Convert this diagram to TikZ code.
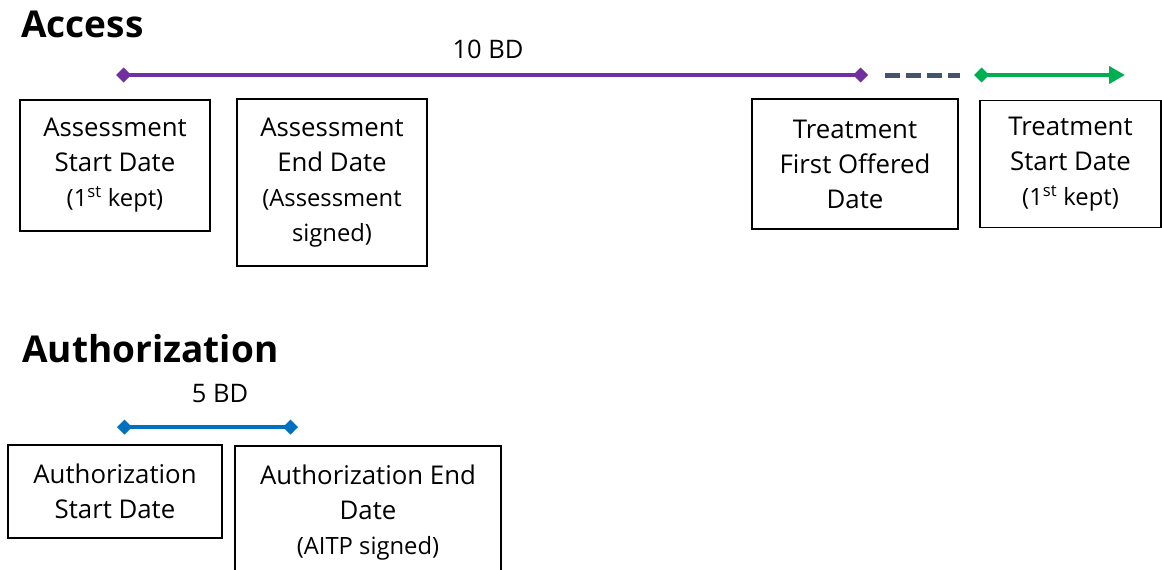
\documentclass[tikz,border=0pt]{standalone}
\usepackage{fontspec}
\setmainfont{Open Sans}
\usetikzlibrary{arrows.meta,positioning}
\definecolor{accpurple}{HTML}{7030A0}
\definecolor{trtgreen}{HTML}{00B050}
\definecolor{authblue}{HTML}{0070C0}
\definecolor{waitgray}{HTML}{44546A}
\newcommand{\sm}[1]{{\fontsize{23.8}{35}\selectfont #1}}
\begin{document}
\begin{tikzpicture}[x=1pt,y=-1pt,
    datebox/.style={draw=black,line width=1.6pt,align=center,inner sep=0pt,
      font=\fontsize{25.8}{35}\selectfont},
    heading/.style={anchor=base west,inner sep=0pt,font=\fontsize{37}{42}\selectfont\bfseries},
    span/.style={anchor=base,inner sep=0pt,font=\fontsize{25.5}{30}\selectfont},
    timeline/.style={line width=4pt,{Diamond[length=15pt,width=15pt]}-{Diamond[length=15pt,width=15pt]}}]
    \useasboundingbox (0,0) rectangle (1162,570);
    % Access
    \node[heading] (acc) at (21,37) {Access};
    \node[span] (acc-bd) at (488,58) {10 BD};
    \coordinate (acc-a) at (116,75);
    \coordinate (acc-b) at (868,75);
    \coordinate (wait-a) at (885,75);
    \coordinate (wait-b) at (960,75);
    \coordinate (trt-a) at (974,75);
    \coordinate (trt-b) at (1125,75);
    \draw[timeline,accpurple] (acc-a) -- (acc-b);
    \draw[waitgray,line width=5pt,dash pattern=on 15pt off 6pt] (wait-a) -- (wait-b);
    \draw[trtgreen,line width=4pt,{Diamond[length=15pt,width=15pt]}-{Triangle[length=16pt,width=17pt]}] (trt-a) -- (trt-b);
    \node[datebox,minimum width=190pt,minimum height=131pt] (as-start) at (115,165.5)
      {Assessment\\Start Date\\\sm{(1\textsuperscript{st} kept)}};
    \node[datebox,minimum width=190pt,minimum height=167pt] (as-end) at (332,182.5)
      {Assessment\\End Date\\\sm{(Assessment}\\\sm{signed)}};
    \node[datebox,minimum width=206pt,minimum height=130pt] (tr-offer) at (855,164)
      {Treatment\\First Offered\\Date};
    \node[datebox,minimum width=181pt,minimum height=127pt] (tr-start) at (1070.5,164)
      {Treatment\\Start Date\\\sm{(1\textsuperscript{st} kept)}};
    % Authorization
    \node[heading] (auth) at (22,362) {Authorization};
    \node[span] (auth-bd) at (220,402) {5 BD};
    \coordinate (auth-a) at (117,427);
    \coordinate (auth-b) at (298,427);
    \draw[timeline,authblue] (auth-a) -- (auth-b);
    \node[datebox,minimum width=214pt,minimum height=93pt] (au-start) at (115,491.5)
      {Authorization\\Start Date};
    \node[datebox,minimum width=266pt,minimum height=134pt] (au-end) at (368,513)
      {Authorization End\\Date\\\sm{(AITP signed)}};
\end{tikzpicture}
\end{document}
